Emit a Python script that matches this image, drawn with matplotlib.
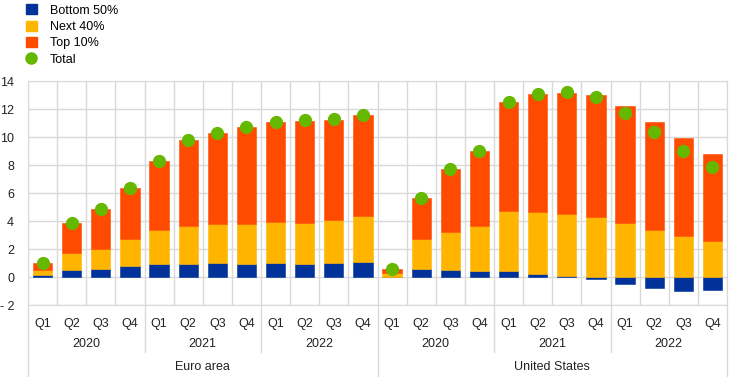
import numpy as np
import matplotlib.pyplot as plt
import matplotlib.transforms as mtransforms
from matplotlib.patches import Patch
from matplotlib.lines import Line2D

plt.rcParams['font.family'] = ['Liberation Sans', 'DejaVu Sans']

regions = ["Euro area", "United States"]
years = ["2020", "2021", "2022"]
quarters = ["Q1", "Q2", "Q3", "Q4"]

# euro area, 2020Q1 .. 2022Q4
ea_bottom50 = [0.17, 0.50, 0.57, 0.76, 0.90, 0.95, 1.00, 0.95, 0.98, 0.95, 1.02, 1.10]
ea_next40 = [0.33, 1.19, 1.43, 1.93, 2.43, 2.69, 2.76, 2.86, 2.92, 2.91, 3.08, 3.23]
ea_top10 = [0.48, 2.17, 2.83, 3.64, 4.98, 6.12, 6.50, 6.88, 7.17, 7.31, 7.14, 7.24]
ea_total = [1.02, 3.88, 4.86, 6.36, 8.31, 9.79, 10.29, 10.71, 11.10, 11.19, 11.26, 11.60]

# united states, 2020Q1 .. 2022Q4
us_bottom50 = [0.02, 0.55, 0.50, 0.43, 0.40, 0.21, 0.07, -0.17, -0.50, -0.76, -0.98, -0.95]
us_next40 = [0.29, 2.19, 2.74, 3.24, 4.29, 4.41, 4.43, 4.29, 3.88, 3.36, 2.90, 2.55]
us_top10 = [0.26, 2.88, 4.47, 5.33, 7.81, 8.45, 8.67, 8.71, 8.33, 7.71, 7.05, 6.21]
us_total = [0.60, 5.64, 7.74, 9.02, 12.52, 13.10, 13.21, 12.83, 11.74, 10.36, 9.02, 7.86]

series = {
    "Bottom 50%": np.array(ea_bottom50 + us_bottom50),
    "Next 40%": np.array(ea_next40 + us_next40),
    "Top 10%": np.array(ea_top10 + us_top10),
}
total = np.array(ea_total + us_total)
colors = {"Bottom 50%": "#003299", "Next 40%": "#FFB400", "Top 10%": "#FF4B00"}
green = "#65B800"
grid_c = "#d9d9d9"

fig = plt.figure(figsize=(7.44, 3.77), dpi=100)
ax = fig.add_axes([28 / 744, 1 - 305 / 377, (727 - 28) / 744, (305 - 81) / 377])

x = np.arange(len(total))
pos_base = np.zeros(len(x))
neg_base = np.zeros(len(x))
for name, vals in series.items():
    base = np.where(vals >= 0, pos_base, neg_base)
    ax.bar(x, vals, bottom=base, width=0.66, color=colors[name],
           edgecolor=colors[name], linewidth=0.4, zorder=2)
    pos_base = pos_base + np.where(vals >= 0, vals, 0)
    neg_base = neg_base + np.where(vals < 0, vals, 0)
ax.plot(x, total, "o", color=green, markersize=8.5, zorder=3)

ax.set_xlim(-0.5, len(x) - 0.5)
ax.set_ylim(-2, 14)
ax.set_yticks(range(-2, 15, 2))
ax.set_yticklabels([str(v).replace("-", "- ") for v in range(-2, 15, 2)])
ax.yaxis.grid(True, color=grid_c, linewidth=1, zorder=0)
for b in np.arange(-0.5, len(x), 1):
    ax.axvline(b, color=grid_c, linewidth=1, zorder=0)
for s in ax.spines.values():
    s.set_color(grid_c)
ax.tick_params(length=0, labelsize=9, colors="#222222")
ax.tick_params(axis="y", pad=10)

ax.set_xticks(x)
ax.set_xticklabels(quarters * 6)
ax.tick_params(axis="x", pad=9)

tr = mtransforms.blended_transform_factory(ax.transData, ax.transAxes)
for r, reg in enumerate(regions):
    start = r * 12
    for y, yr in enumerate(years):
        c = start + y * 4 + 1.5
        ax.text(c, -0.175, yr, transform=tr, ha="center", va="center", fontsize=9, color="#222222")
        if y > 0:
            b = start + y * 4 - 0.5
            ax.plot([b, b], [0, -0.21], transform=tr, color=grid_c, linewidth=1, clip_on=False)
    ax.text(start + 5.5, -0.278, reg, transform=tr, ha="center", va="center", fontsize=9, color="#222222")
for b in [-0.5, 11.5, 23.5]:
    ax.plot([b, b], [0, -0.32], transform=tr, color=grid_c, linewidth=1, clip_on=False)

handles = [Patch(color=colors[n]) for n in series] + \
    [Line2D([], [], marker="o", linestyle="", color=green, markersize=8)]
labels = list(series) + ["Total"]
fig.legend(handles, labels, loc="upper left", bbox_to_anchor=(0.025, 1.008), frameon=False,
           fontsize=9, handlelength=0.85, handleheight=0.85, handletextpad=1.05,
           labelspacing=0.32, borderaxespad=0.2)

fig.savefig("out.png", dpi=100)
